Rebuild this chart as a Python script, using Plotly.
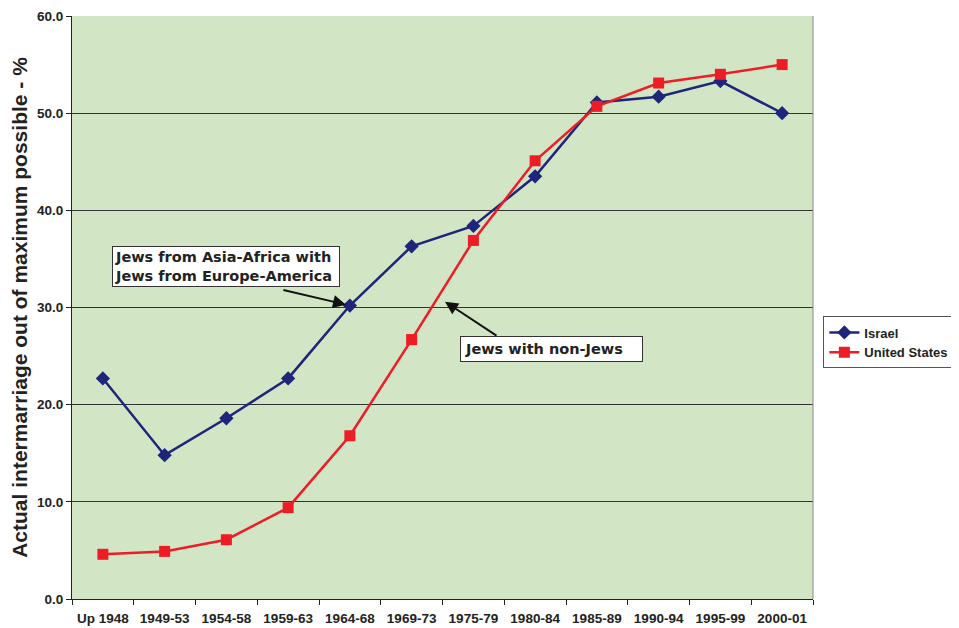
import plotly.graph_objects as go

categories = ["Up 1948", "1949-53", "1954-58", "1959-63", "1964-68", "1969-73",
              "1975-79", "1980-84", "1985-89", "1990-94", "1995-99", "2000-01"]
israel = [22.7, 14.8, 18.6, 22.7, 30.2, 36.3, 38.4, 43.5, 51.1, 51.7, 53.3, 50.0]
united_states = [4.6, 4.9, 6.1, 9.4, 16.8, 26.7, 36.9, 45.1, 50.7, 53.1, 54.0, 55.0]
y_ticks = [0, 10, 20, 30, 40, 50, 60]

fig = go.Figure()
fig.add_trace(go.Scatter(x=categories, y=israel, name="Israel", mode="lines+markers",
                         line=dict(color="#1F257A", width=2.5),
                         marker=dict(symbol="diamond", size=11, color="#1F257A")))
fig.add_trace(go.Scatter(x=categories, y=united_states, name="United States", mode="lines+markers",
                         line=dict(color="#EE1C25", width=2.5),
                         marker=dict(symbol="square", size=11, color="#EE1C25")))

axis_font = dict(family="Liberation Sans, Arial, sans-serif", size=13.5, color="#222", weight="bold")
legend_font = dict(family="Liberation Sans, Arial, sans-serif", size=13, color="#222", weight="bold")

fig.update_layout(
    width=959, height=628,
    margin=dict(l=64, r=154, t=8, b=37, autoexpand=False),
    paper_bgcolor="white",
    plot_bgcolor="#D2E6C6",
    font=dict(family="Liberation Sans, Arial, sans-serif", size=12, color="#222"),
    showlegend=True,
    legend=dict(x=1.014, y=0.44, xanchor="left", yanchor="middle",
                bgcolor="white", bordercolor="#555", borderwidth=1,
                font=legend_font, tracegroupgap=0, itemwidth=30),
    xaxis=dict(type="category", tickson="boundaries", ticks="outside", ticklen=5,
               tickcolor="#222", showline=True, linecolor="#222", linewidth=1,
               showgrid=False, tickfont=axis_font, automargin=False, tickangle=0,
               ticklabelstandoff=7,
               ticklabeloverflow="allow", range=[-0.5, 11.5]),
    yaxis=dict(range=[0, 60], tickvals=y_ticks, ticktext=[f"{v:.1f}" for v in y_ticks],
               ticks="outside", ticklen=5, tickcolor="#222", showline=True, linecolor="#222",
               showgrid=True, gridcolor="#333", gridwidth=1, zeroline=False,
               tickfont=axis_font, automargin=False, ticklabeloverflow="allow",
               title=dict(text="Actual intermarriage out of maximum possible - %",
                          font=dict(family="Liberation Sans, Arial", size=21, color="#222", weight="bold"),
                          standoff=12)),
)

# right border of plot area
fig.add_shape(type="line", xref="paper", yref="paper", x0=1, x1=1, y0=0, y1=1,
              line=dict(color="#888", width=1))

annot_font = dict(family="DejaVu Sans, Verdana", size=14.5, color="#222", weight="bold")
fig.add_annotation(xref="paper", yref="paper", x=(112 - 72) / 741, y=(599 - 246) / 583,
                   xanchor="left", yanchor="top", align="left", showarrow=False,
                   text="Jews from Asia-Africa with<br>Jews from Europe-America ",
                   font=annot_font, bgcolor="white", bordercolor="#333", borderwidth=1, borderpad=2)
fig.add_annotation(xref="paper", yref="paper", x=(460 - 72) / 741, y=(599 - 336) / 583,
                   xanchor="left", yanchor="top", align="left", showarrow=False,
                   text="Jews with non-Jews   ",
                   font=annot_font, bgcolor="white", bordercolor="#333", borderwidth=1, borderpad=4)

# arrows
fig.add_annotation(x="1964-68", y=30.2, xref="x", yref="y", text="",
                   showarrow=True, arrowhead=2, arrowsize=1.3, arrowwidth=2, arrowcolor="#111",
                   ax=-68, ay=-16, standoff=4)
fig.add_annotation(x=5.54, y=30.6, xref="x", yref="y", text="",
                   showarrow=True, arrowhead=2, arrowsize=1.3, arrowwidth=2, arrowcolor="#111",
                   ax=53, ay=35, standoff=0)

fig.write_html("out.html")
